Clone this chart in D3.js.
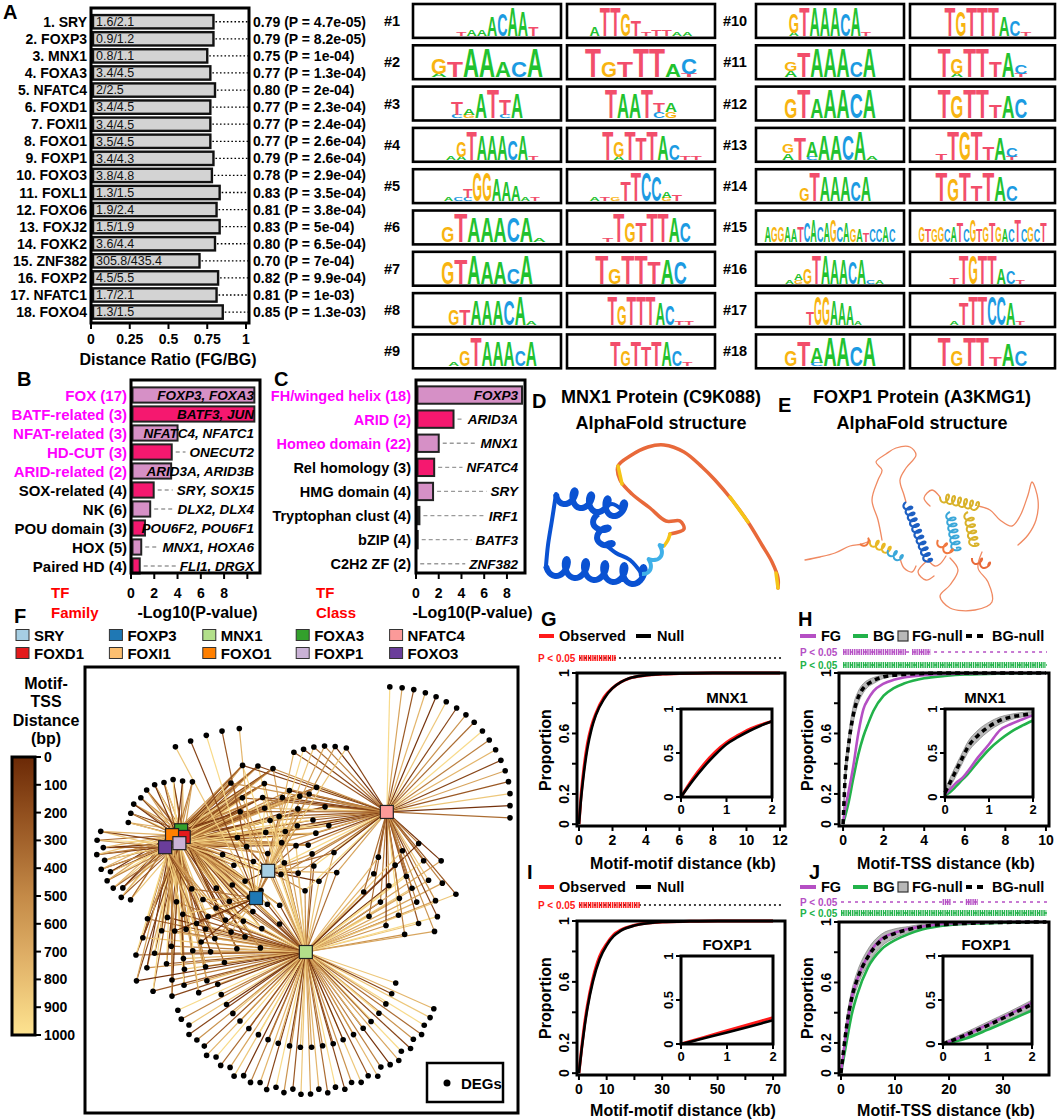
<!DOCTYPE html>
<html>
<head>
<meta charset="utf-8">
<script src="https://cdn.jsdelivr.net/npm/d3@7"></script>
<style>
  body { margin: 0; background: #fff; }
  svg { display: block; }
  text { font-family: "Liberation Sans", Arial, Helvetica, sans-serif; }
</style>
</head>
<body>
<svg id="fig" width="1059" height="1120"></svg>
<script>
// ---------------- data: panel A ----------------
const tfNamesA = ["SRY","FOXP3","MNX1","FOXA3","NFATC4","FOXD1","FOXI1","FOXO1","FOXP1","FOXO3","FOXL1","FOXO6","FOXJ2","FOXK2","ZNF382","FOXP2","NFATC1","FOXO4"];
const distFG = ["1.6","0.9","0.8","3.4","2","3.4","3.4","3.5","3.4","3.8","1.3","1.9","1.5","3.6","305.8","4.5","1.7","1.3"];
const distBG = ["2.1","1.2","1.1","4.5","2.5","4.5","4.5","4.5","4.3","4.8","1.5","2.4","1.9","4.4","435.4","5.5","2.1","1.5"];
const ratioA = [0.79,0.79,0.75,0.77,0.80,0.77,0.77,0.77,0.79,0.78,0.83,0.81,0.83,0.80,0.70,0.82,0.81,0.85];
const pvalA = ["4.7e-05","8.2e-05","1e-04","1.3e-04","2e-04","2.3e-04","2.4e-04","2.6e-04","2.6e-04","2.9e-04","3.5e-04","3.8e-04","5e-04","6.5e-04","7e-04","9.9e-04","1e-03","1.3e-03"];
const ratioTicks = [0, 0.25, 0.5, 0.75, 1];

// sequence logos: one token per position, letter+height(0-9), stacked bottom->top, "-" = empty
const motifFwd = [
  "- - - - t1 a2 a2 A6 C7 A9 A8 T3 - -",
  "- a1G5 T5 A9 A9 A5 C5 A9 -",
  "- - - c1T4 g1a2 A8 T9 c1T5 A8 - - -",
  "- - - a1 a1G5 T9 A8 A8 A8 C6 A8 t1 - -",
  "- - - a1 c1 c1T3 G9 G9 A7 A6 A5 a1 t1 - -",
  "- - G5 T9 A8 A8 A8 C8 A8 a1 -",
  "- - G7 T8 A9 A7 A7 C5 A9 - -",
  "- - - G5 T5 A8 A8 A8 C8 A9 a1 - -",
  "- - - a1 G5 T9 A8 A8 A8 C5 A8 - -",
  "- - - a1G6 T9 A9 A9 A9 C7 A9 t1 - - -",
  "- - a2G3 T8 A9 A9 A9 C5 A9 - -",
  "- - G6 T9 A6 A9 A9 C8 A9 - -",
  "- - a2G3 T7 c1A5 A8 A8 C8 A9 a1 - -",
  "- - - - G4 T9 A8 A8 A8 C6 A8 - - -",
  "- a5 g5 g5 a5 a4 t5 c6 a7 c5 a6 g7 c5 a6 g4 a4 t3 c4 c4 a5 c4 -",
  "- - - a1 g1a2 G5 T9 A9 A8 A8 C7 A8 c1 a1 - -",
  "- - - - - - T4 G9 G9 A8 A7 A6 a1 - - - - -",
  "- - G5 T8 c1A5 A9 A9 C6 A9 - -"
];
const motifRev = [
  "- - a3 T9 T9 G7 T5 t1 t2 t2 a1 a1 - -",
  "- T9 G5 T5 T9 T9 A4 t1C5 -",
  "- - - T9 A8 A8 T9 c2t3 g2a3 - - -",
  "- - - T9 a1G5 T9 T7 T9 A8 C5 t1 t1 -",
  "- - a1 t1 g1 T6 T9 C9 C8 g1a2 t2 - - -",
  "- - - t1 T9 G6 T6 T9 T9 A8 C6 - -",
  "- - T9 G5 T9 T9 T7 A8 C7 - -",
  "- - - - T9 G6 T9 T9 T9 A7 C6 t1 t1 - -",
  "- - - - T8 G5 T8 T6 T8 A8 C5 t1 - -",
  "- - - T9 G8 T9 T9 T9 A6 C5 t1 - -",
  "- - T9 a1G5 T9 T9 T5 A8 t1C3 - -",
  "- - T9 G7 T9 T9 T4 A7 C6 - -",
  "- - t2 T9 G9 T9 T4 A7 t1C3 - - -",
  "- - T9 G7 T9 T5 T9 A8 C5 - - -",
  "- g5 t4 g4 g5 c4 a5 t6 c4 g7 t4 g5 t6 g5 a4 c4 t7 c4 g5 c4 t6 -",
  "- - - - t2 T9 G9 T9 T9 A5 C4 t1 - - -",
  "- - - - a1 T7 T9 T9 C9 C9 A7 t1 - - -",
  "- - T9 G5 T9 T9 T3 A7 C5 - -"
];

// ---------------- data: panels B, C ----------------
const familyB = ["FOX (17)","BATF-related (3)","NFAT-related (3)","HD-CUT (3)","ARID-related (2)","SOX-related (4)","NK (6)","POU domain (3)","HOX (5)","Paired HD (4)"];
const familyLogP = [10.6, 10.6, 4.0, 3.5, 3.45, 1.95, 1.65, 1.2, 0.88, 0.75];
const familyGenes = ["FOXP3, FOXA3","BATF3, JUN","NFATC4, NFATC1","ONECUT2","ARID3A, ARID3B","SRY, SOX15","DLX2, DLX4","POU6F2, POU6F1","MNX1, HOXA6","FLI1, DRGX"];
const familySig = [1,1,1,1,1,0,0,0,0,0];
const classC = ["FH/winged helix (18)","ARID (2)","Homeo domain (22)","Rel homology (3)","HMG domain (4)","Tryptophan clust (4)","bZIP (4)","C2H2 ZF (2)"];
const classLogP = [9.4, 3.3, 2.0, 1.6, 1.5, 0.3, 0.15, 0.02];
const classGenes = ["FOXP3","ARID3A","MNX1","NFATC4","SRY","IRF1","BATF3","ZNF382"];
const classSig = [1,1,1,0,0,0,0,0];
const logPTicks = [0, 2, 4, 6, 8, 10];
const logPLabels = [0, 2, 4, 6, 8];

// ---------------- data: panel F network ----------------
const netTFs = ["SRY","FOXP3","MNX1","FOXA3","NFATC4","FOXD1","FOXI1","FOXO1","FOXP1","FOXO3"];
const degGroupTFs = [
  ["MNX1"], ["MNX1"], ["NFATC4"],
  ["FOXO3","FOXP1","FOXO1"], ["FOXA3","FOXD1","FOXI1"],
  ["FOXP1","FOXO1","MNX1"], ["FOXA3","FOXD1","FOXI1","MNX1"],
  ["FOXO3","FOXP1","FOXD1","NFATC4"], ["MNX1","NFATC4"],
  ["SRY","MNX1","NFATC4"], ["SRY","FOXP1","FOXO1"],
  ["FOXP3","MNX1","FOXO3"], ["FOXP3","FOXP1","NFATC4"],
  ["FOXA3","FOXD1","FOXI1","FOXO1","FOXP1","FOXO3","MNX1","NFATC4"],
  ["FOXP3"], ["SRY","NFATC4"]
];
const degGroupSize = [38, 22, 18, 12, 10, 25, 15, 12, 25, 10, 8, 10, 6, 8, 5, 6];
// motif-TSS distance of every edge, in hundreds of bp (0-9)
const degGroupDist = [
  "7893519604 7285193768 2591740863 97251849",
  "8169375024 6817392580 47",
  "9627081539 47162803",
  "6839271508 3794618025 7396148207 593817",
  "7281936405 8172639048 2719380564",
  "8371926045 7819263580 4917382605 8371940286 1739285046 8192736051 4928371605 73961",
  "6182739504 8271936045 7391820564 9173826059 1827394605 8392716048",
  "7392816054 8192736405 2918374650 8173926048 27391856",
  "8162937405 7829136504 9182736450 8291736054 7182930465",
  "7291836450 8172936045 9281736054",
  "6829173540 8192736504 7291",
  "8291736045 7182936504 8392716045",
  "7193826504 81927365",
  "8271936405 9182736054 7291836450 8172936045 9281736504 8192736045 7291",
  "81927",
  "7291836450 81"
];
const tssTicks = [0,100,200,300,400,500,600,700,800,900,1000];

// ---------------- data: panels G-J ----------------
const gX = [0,0.1,0.25,0.5,0.75,1,1.5,2,2.5,3,4,5,6,8,10,12];
const gNull = [0,0.14,0.3,0.5,0.63,0.72,0.83,0.9,0.94,0.965,0.985,0.993,0.997,1,1,1];
const gObs  = [0,0.16,0.33,0.53,0.65,0.73,0.84,0.9,0.94,0.965,0.985,0.993,0.997,1,1,1];
const gInX = [0,0.25,0.5,0.75,1,1.25,1.5,1.75,2];
const gInNull = [0,0.18,0.34,0.48,0.6,0.68,0.75,0.81,0.86];
const gInObs  = [0,0.2,0.37,0.51,0.62,0.7,0.77,0.82,0.86];
const gSig = [[0, 2.2]];

const hX = [0,0.1,0.25,0.5,0.75,1,1.25,1.5,2,2.5,3,4,5,6,8,10];
const hBgNull = [0,0.3,0.5,0.72,0.84,0.9,0.93,0.95,0.975,0.985,0.99,0.997,1,1,1,1];
const hFgNullLo = [0,0.25,0.45,0.67,0.8,0.87,0.91,0.93,0.965,0.978,0.985,0.994,0.998,1,1,1];
const hFgNullHi = [0,0.36,0.56,0.78,0.88,0.93,0.955,0.97,0.985,0.992,0.995,1,1,1,1,1];
const hFG = [0,0.1,0.2,0.38,0.6,0.76,0.83,0.88,0.93,0.955,0.97,0.985,0.993,0.997,1,1];
const hBG = [0,0.05,0.13,0.3,0.46,0.58,0.67,0.75,0.85,0.9,0.93,0.965,0.98,0.99,0.997,1];
const hInX = [0,0.1,0.25,0.4,0.5,0.75,1,1.25,1.5,1.75,2];
const hInBgNull = [0.05,0.15,0.3,0.45,0.55,0.7,0.8,0.87,0.91,0.93,0.95];
const hInFgNullLo = [0.02,0.1,0.24,0.39,0.49,0.64,0.75,0.83,0.88,0.91,0.93];
const hInFgNullHi = [0.08,0.2,0.36,0.51,0.61,0.76,0.85,0.91,0.94,0.96,0.97];
const hInFG = [0.03,0.08,0.16,0.22,0.28,0.45,0.6,0.76,0.83,0.88,0.93];
const hInBG = [0.02,0.05,0.12,0.2,0.25,0.4,0.54,0.65,0.74,0.81,0.87];
const hSigFG = [[0, 3.1], [3.4, 4.3]];
const hSigBG = [[0, 10]];

const iX = [0,1,2,3,5,7.5,10,12.5,15,20,25,30,40,50,70];
const iNull = [0,0.16,0.3,0.42,0.6,0.75,0.84,0.9,0.935,0.97,0.985,0.993,0.998,1,1];
const iObs  = [0,0.17,0.32,0.44,0.62,0.77,0.85,0.91,0.94,0.972,0.987,0.994,0.998,1,1];
const iInX = [0,0.5,1,1.5,2];
const iInNull = [0,0.065,0.13,0.2,0.27];
const iInObs  = [0,0.075,0.15,0.225,0.3];
const iSig = [[0, 22]];

const jX = [0,1,2,3,5,7.5,10,12.5,15,20,25,30,38];
const jFG = [0,0.28,0.5,0.62,0.78,0.89,0.93,0.955,0.97,0.99,0.995,1,1];
const jBgNull = [0,0.3,0.5,0.62,0.77,0.88,0.925,0.95,0.97,0.985,0.993,0.997,1];
const jFgNullLo = [0,0.25,0.45,0.57,0.72,0.84,0.895,0.93,0.955,0.975,0.988,0.995,1];
const jFgNullHi = [0,0.35,0.55,0.67,0.82,0.92,0.955,0.97,0.985,0.995,0.998,1,1];
const jBG = [0,0.2,0.39,0.52,0.7,0.82,0.88,0.92,0.95,0.98,0.99,0.995,1];
const jInX = [0,0.5,1,1.5,2];
const jInFG = [0,0.1,0.22,0.34,0.47];
const jInBgNull = [0,0.1,0.21,0.33,0.45];
const jInFgNullLo = [0,0.07,0.17,0.28,0.4];
const jInFgNullHi = [0.02,0.13,0.25,0.37,0.5];
const jInBG = [0,0.06,0.16,0.27,0.38];
const jSigFG = [[18.8, 20.4], [23.1, 25.3]];
const jSigBG = [[0, 38]];

// ---------------- styles / layout ----------------
const nucColor = {A: "#22c22f", C: "#1c9be2", G: "#f8b411", T: "#f24e6b"};
const plum = "#d690c6", pink = "#f5186f", magenta = "#ff00ff";
const tfColor = {SRY:"#a6cee3", FOXP3:"#1f78b4", MNX1:"#b2df8a", FOXA3:"#33a02c", NFATC4:"#fb9a99",
                 FOXD1:"#e31a1c", FOXI1:"#fdbf6f", FOXO1:"#ff7f00", FOXP1:"#cab2d6", FOXO3:"#6a3d9a"};
const tssColor = d3.scaleLinear().domain([0,250,500,750,1000])
  .range(["#6b2906","#9a5824","#c48a47","#e3b56b","#fde390"]);
const fgCol = "#b54fc4", bgCol = "#22b24a";

const svg = d3.select("#fig");

function label(g, x, y, s, o = {}) {
  const t = g.append("text")
    .attr("x", x).attr("y", y)
    .attr("font-size", o.size || 14)
    .attr("font-weight", o.weight || "bold")
    .attr("text-anchor", o.anchor || "start")
    .attr("fill", o.fill || "#000")
    .text(s);
  if (o.italic) t.attr("font-style", "italic");
  if (o.rotate) t.attr("transform", `rotate(${o.rotate},${x},${y})`);
  return t;
}
function seg(g, x1, y1, x2, y2, color, w, dash) {
  const l = g.append("line").attr("x1", x1).attr("y1", y1).attr("x2", x2).attr("y2", y2)
    .attr("stroke", color).attr("stroke-width", w);
  if (dash) l.attr("stroke-dasharray", dash);
  return l;
}
function box(g, x0, y0, x1, y1, w, fill) {
  return g.append("rect").attr("x", x0).attr("y", y0).attr("width", x1 - x0).attr("height", y1 - y0)
    .attr("fill", fill || "none").attr("stroke", w ? "#000" : "none").attr("stroke-width", w);
}

// ======================= Panel A =======================
const gA = svg.append("g");
label(gA, 3, 19, "A", {size: 20});
const xA = d3.scaleLinear().domain([0, 1]).range([91, 246]);
const yA = d3.scaleBand().domain(d3.range(tfNamesA.length)).range([13.2, 320.6])
  .paddingInner(0.22).paddingOuter(0.11);
const aRight = 249, aTop = 8, aBottom = 323;

tfNamesA.forEach((name, i) => {
  const y = yA(i), h = yA.bandwidth(), cy = y + h / 2, xe = xA(ratioA[i]);
  seg(gA, xe + 2, cy, aRight, cy, "#000", 1.3, "1.6,2.2");
  gA.append("rect").attr("x", xA(0) + 2).attr("y", y).attr("width", xe - xA(0) - 2).attr("height", h)
    .attr("fill", "#d3d3d3").attr("stroke", "#111").attr("stroke-width", 2.4);
  label(gA, xA(0) + 5, cy + 4.3, `${distFG[i]}/${distBG[i]}`, {size: 12.5, weight: "normal", fill: "#111"});
  label(gA, 87, cy + 5, `${i + 1}. ${name}`, {size: 14, anchor: "end"});
  label(gA, 253, cy + 5, `${ratioA[i].toFixed(2)} (P = ${pvalA[i]})`, {size: 14});
});
box(gA, xA(0), aTop, aRight, aBottom, 3);
ratioTicks.forEach(t => {
  seg(gA, xA(t), aBottom, xA(t), aBottom + 6, "#000", 2);
  label(gA, xA(t), aBottom + 21, String(t), {size: 14, anchor: "middle"});
});
label(gA, 168, 365, "Distance Ratio (FG/BG)", {size: 16, anchor: "middle"});

// ---- motif logos ----
const gM = svg.append("g");
const logoCols = [[413, 561], [567, 715], [756, 904], [910, 1055]];
const logoRow = d3.scaleBand().domain(d3.range(9)).range([4, 368.3]).paddingInner(0.18);

function drawLogo(g, x0, x1, y0, y1, str) {
  box(g, x0, y0, x1, y1, 0, "#fff");
  const cols = str.split(" ");
  const cx = d3.scaleBand().domain(d3.range(cols.length)).range([x0 + 2, x1 - 2]);
  const hs = d3.scaleLinear().domain([0, 9]).range([0, (y1 - y0 - 4) * 0.97]);
  cols.forEach((tok, i) => {
    let base = y1 - 2;
    for (const m of tok.matchAll(/([acgt])(\d)/gi)) {
      const L = m[1].toUpperCase(), h = hs(+m[2]);
      g.append("text").text(L)
        .attr("font-size", 10).attr("font-weight", "bold")
        .attr("textLength", cx.bandwidth()).attr("lengthAdjust", "spacingAndGlyphs")
        .attr("fill", nucColor[L])
        .attr("transform", `translate(${cx(i)},${base}) scale(1,${h / 7.2})`);
      base -= h;
    }
  });
  box(g, x0, y0, x1, y1, 2.6);
}
motifFwd.forEach((fwd, m) => {
  const grp = m < 9 ? 0 : 1, row = m % 9;
  const y0 = logoRow(row), y1 = y0 + logoRow.bandwidth();
  const cF = logoCols[grp * 2], cR = logoCols[grp * 2 + 1];
  drawLogo(gM, cF[0], cF[1], y0, y1, fwd);
  drawLogo(gM, cR[0], cR[1], y0, y1, motifRev[m]);
  label(gM, cF[0] - 21, (y0 + y1) / 2 + 5, `#${m + 1}`, {size: 14.5, anchor: "middle"});
});

// ======================= Panels B & C =======================
function tfBarPanel(g, xs, ys, names, vals, genes, sig, nameX, geneX, nameSize, top, bottom) {
  const [x0, x1] = [xs(0), xs.range()[1] + 1];
  names.forEach((nm, i) => {
    const y = ys(i), h = ys.bandwidth(), cy = y + h / 2;
    const xe = Math.min(xs(vals[i]), x1 - 3);
    const gt = label(g, geneX, cy + 5, genes[i], {size: 13.5, anchor: "end", italic: true});
    const w = gt.node().getComputedTextLength();
    if (geneX - w - 4 > xe + 5) seg(g, xe + 4, cy, geneX - w - 4, cy, "#9a9a9a", 1.3, "4,3");
    if (vals[i] > 0.05) {
      g.insert("rect", "text").attr("x", x0 + 1.5).attr("y", y).attr("width", xe - x0 - 1.5).attr("height", h)
        .attr("fill", i % 2 === 0 ? plum : pink).attr("stroke", "#222").attr("stroke-width", 2);
    }
    label(g, nameX, cy + 5.5, nm, {size: nameSize, anchor: "end", fill: sig[i] ? magenta : "#000"});
  });
  box(g, x0, top, x1, bottom, 3);
  logPTicks.filter(t => xs(t) < x1).forEach(t => seg(g, xs(t), bottom, xs(t), bottom + 6, "#000", 2));
  logPLabels.forEach(t => label(g, xs(t), bottom + 25, String(t), {size: 14, anchor: "middle"}));
  label(g, (x0 + x1) / 2 + 2, bottom + 45, "-Log10(P-value)", {size: 16, anchor: "middle"});
}
const gB = svg.append("g");
label(gB, 17, 386, "B", {size: 20});
const xB = d3.scaleLinear().domain([0, 11]).range([131, 259]);
const yB = d3.scaleBand().domain(d3.range(familyB.length)).range([385.5, 575.5]).paddingInner(0.2).paddingOuter(0.1);
tfBarPanel(gB, xB, yB, familyB, familyLogP, familyGenes, familySig, 127, 254, 15, 380, 573);
label(gB, 51, 598, "TF", {size: 15, fill: "#ff0000"});
label(gB, 51, 618, "Family", {size: 15, fill: "#ff0000"});

const gC = svg.append("g");
label(gC, 274, 386, "C", {size: 20});
const xC = d3.scaleLinear().domain([0, 9.5]).range([416, 524]);
const yC = d3.scaleBand().domain(d3.range(classC.length)).range([383, 575.8]).paddingInner(0.28).paddingOuter(0.14);
tfBarPanel(gC, xC, yC, classC, classLogP, classGenes, classSig, 411, 518, 14.5, 380, 573);
label(gC, 316, 598, "TF", {size: 15, fill: "#ff0000"});
label(gC, 316, 618, "Class", {size: 15, fill: "#ff0000"});

// ======================= Panels D & E (structure sketches) =======================
const mnx1Coil = [[130,94],[144,89],[140,81],[126,81],[110,68],[92,54],[80,40],[78,26],[90,16],[108,7],[124,5],[144,12],[162,27],[175,40],[192,60],[208,82],[222,105],[232,122],[238,138],[238,148]];
const mnx1Yellow = [[[82,44],[78,26]], [[190,57],[208,82]], [[236,133],[238,148]], [[124,106],[128,100],[130,94]]];
const mnx1Loops = [[[6,126],[8,105],[12,80],[16,54]], [[82,70],[72,64],[60,72],[58,74]], [[66,105],[76,113],[90,120],[102,134]]];
const mnx1Helices = [
  {a:[6,126], b:[102,136], turns:5, amp:9, c:"#0a52d2", w:6},
  {a:[16,54], b:[82,70], turns:4, amp:8, c:"#0a52d2", w:6},
  {a:[58,74], b:[66,105], turns:2, amp:7, c:"#0a52d2", w:6},
  {a:[102,134], b:[124,106], turns:2, amp:4, c:"#3fb0e8", w:4}
];
const foxp1Coils = [
  [[5,120],[20,117],[35,113],[50,106],[62,104],[70,101]],
  [[100,118],[104,128],[112,132],[116,126]],
  [[82,100],[78,80],[72,60],[78,40],[82,30],[76,22],[86,14],[96,8],[110,7],[116,15],[106,28],[100,40],[104,55],[106,62]],
  [[128,120],[135,126],[140,124],[146,116]],
  [[178,66],[190,70],[200,80],[212,86],[220,76],[228,55],[232,42],[238,60],[236,80],[228,95],[218,105]],
  [[150,118],[158,130],[150,145],[140,156],[150,168],[175,170],[192,162],[188,142],[178,128],[182,112]],
  [[128,120],[118,132],[126,140],[134,136]],
  [[140,57],[132,50],[124,58],[130,66]]
];
const foxp1Helices = [
  {a:[70,101], b:[88,110], turns:3, amp:4, c:"#e8b825", w:2},
  {a:[88,110], b:[100,118], turns:2, amp:4, c:"#3aa7d9", w:2},
  {a:[106,62], b:[128,120], turns:10, amp:4, c:"#1d5fc2", w:2.2},
  {a:[140,57], b:[176,66], turns:6, amp:4.5, c:"#d9b22a", w:2},
  {a:[150,72], b:[156,108], turns:6, amp:4.5, c:"#3aa7d9", w:2},
  {a:[168,72], b:[174,104], turns:5, amp:4.5, c:"#d9b22a", w:2},
  {a:[138,100], b:[150,112], turns:2, amp:4, c:"#f07840", w:2},
  {a:[172,118], b:[188,126], turns:2, amp:4, c:"#e86a3a", w:2},
  {a:[60,104], b:[70,101], turns:1, amp:3, c:"#f07840", w:2}
];
function helixPts(a, b, turns, amp) {
  const n = Math.round(turns * 12), dx = b[0] - a[0], dy = b[1] - a[1];
  const L = Math.hypot(dx, dy), ux = dx / L, uy = dy / L, nx = -uy, ny = ux;
  return d3.range(n + 1).map(i => {
    const f = i / n, ph = f * turns * 2 * Math.PI;
    const along = f * L - amp * 0.6 * Math.cos(ph) + amp * 0.6, perp = amp * Math.sin(ph);
    return [a[0] + ux * along + nx * perp, a[1] + uy * along + ny * perp];
  });
}
function sketch(g, sx, sy, coils, coilColor, coilW, helices, extra) {
  const line = d3.line().x(d => sx(d[0])).y(d => sy(d[1])).curve(d3.curveCatmullRom);
  coils.forEach(p => g.append("path").attr("d", line(p)).attr("fill", "none")
    .attr("stroke", coilColor).attr("stroke-width", coilW).attr("stroke-linecap", "round"));
  if (extra) extra(line);
  helices.forEach(h => g.append("path").attr("d", line(helixPts(h.a, h.b, h.turns, h.amp)))
    .attr("fill", "none").attr("stroke", h.c).attr("stroke-width", h.w).attr("stroke-linejoin", "round"));
}
const gD = svg.append("g");
label(gD, 532, 408, "D", {size: 20});
label(gD, 661, 403, "MNX1 Protein (C9K088)", {size: 18, anchor: "middle"});
label(gD, 661, 429, "AlphaFold structure", {size: 18, anchor: "middle"});
const dX = d3.scaleLinear().domain([0, 240]).range([540, 780]);
const dY = d3.scaleLinear().domain([0, 150]).range([440, 590]);
sketch(gD, dX, dY, [mnx1Coil], "#e8693a", 3.5, mnx1Helices, line => {
  mnx1Yellow.forEach(p => gD.append("path").attr("d", line(p)).attr("fill", "none")
    .attr("stroke", "#f5c518").attr("stroke-width", 3.5).attr("stroke-linecap", "round"));
  mnx1Loops.forEach(p => gD.append("path").attr("d", line(p)).attr("fill", "none")
    .attr("stroke", "#0a52d2").attr("stroke-width", 4).attr("stroke-linecap", "round"));
});

const gE = svg.append("g");
label(gE, 778, 412, "E", {size: 20});
label(gE, 922, 403, "FOXP1 Protein (A3KMG1)", {size: 18, anchor: "middle"});
label(gE, 922, 429, "AlphaFold structure", {size: 18, anchor: "middle"});
const eX = d3.scaleLinear().domain([0, 240]).range([800, 1040]);
const eY = d3.scaleLinear().domain([0, 175]).range([440, 615]);
sketch(gE, eX, eY, foxp1Coils, "#f08a62", 1.3, foxp1Helices);

// ======================= Panel F (network) =======================
const gF = svg.append("g");
label(gF, 14, 623, "F", {size: 20});
const legX = d3.scaleBand().domain(d3.range(5)).range([16, 483]);
netTFs.forEach((t, i) => {
  const x = legX(i % 5), cy = 635 + Math.floor(i / 5) * 18;
  gF.append("rect").attr("x", x).attr("y", cy - 5.5).attr("width", 13).attr("height", 11)
    .attr("fill", tfColor[t]).attr("stroke", "#333").attr("stroke-width", 1);
  label(gF, x + 18, cy + 5.5, t, {size: 15});
});

// color bar
const defs = svg.append("defs");
const grad = defs.append("linearGradient").attr("id", "tssGrad").attr("x1", 0).attr("y1", 0).attr("x2", 0).attr("y2", 1);
tssTicks.forEach(v => grad.append("stop").attr("offset", v / 1000).attr("stop-color", tssColor(v)));
const cbY = d3.scaleLinear().domain([0, 1000]).range([757, 1035]);
["Motif-", "TSS", "Distance", "(bp)"].forEach((s, i) => label(gF, 46, 689 + i * 18.3, s, {size: 16, anchor: "middle"}));
gF.append("rect").attr("x", 12).attr("y", cbY(0)).attr("width", 23).attr("height", cbY(1000) - cbY(0))
  .attr("fill", "url(#tssGrad)").attr("stroke", "#000").attr("stroke-width", 3);
tssTicks.forEach(v => {
  seg(gF, 35, cbY(v), 41, cbY(v), "#000", 2);
  label(gF, 44, cbY(v) + 5, String(v), {size: 14});
});

// network layout (layout space 0-1 mapped to the panel box)
const netX = d3.scaleLinear().domain([0, 1]).range([85, 518]);
const netY = d3.scaleLinear().domain([0, 1]).range([667, 1113]);
const tfLayout = {SRY:[0.423,0.457], FOXP3:[0.395,0.518], MNX1:[0.510,0.639], FOXA3:[0.222,0.366],
  NFATC4:[0.697,0.325], FOXD1:[0.228,0.381], FOXI1:[0.212,0.378], FOXO1:[0.201,0.377],
  FOXP1:[0.218,0.395], FOXO3:[0.185,0.404]};
// per group: fan ("arc": from, to, radius) or cloud ("cloud": direction, distance) around its TFs
const groupLayout = [
  ["arc",25,155,140], ["arc",20,160,95], ["arc",-88,2,125], ["arc",128,185,72], ["arc",-165,-80,54],
  ["cloud",118,88], ["cloud",55,58], ["cloud",-12,68], ["cloud",8,62], ["cloud",230,22], ["cloud",15,45],
  ["cloud",150,45], ["cloud",-70,42], ["cloud",-58,72], ["arc",-118,-96,170], ["arc",-110,-80,95]];
const tfPos = {};
netTFs.forEach(t => tfPos[t] = [netX(tfLayout[t][0]), netY(tfLayout[t][1])]);
const degNodes = [], edges = [];
const rad = a => a * Math.PI / 180;
degGroupTFs.forEach((tfs, g) => {
  const n = degGroupSize[g], ds = degGroupDist[g].replace(/\s/g, "");
  const cx = d3.mean(tfs, t => tfPos[t][0]), cy = d3.mean(tfs, t => tfPos[t][1]);
  const L = groupLayout[g];
  for (let j = 0; j < n; j++) {
    let tx, ty, k;
    if (L[0] === "arc") {
      const a = rad(L[1] + (L[2] - L[1]) * (n === 1 ? 0.5 : j / (n - 1)));
      tx = cx + L[3] * Math.cos(a); ty = cy + L[3] * Math.sin(a); k = 0.4;
    } else {
      const ox = cx + L[2] * Math.cos(rad(L[1])), oy = cy + L[2] * Math.sin(rad(L[1]));
      const rr = 8 * Math.sqrt(j + 0.5), th = j * 2.39996;
      tx = ox + rr * Math.cos(th); ty = oy + rr * Math.sin(th); k = 0.08;
    }
    const node = {tx, ty, k, x: tx, y: ty};
    degNodes.push(node);
    tfs.forEach((t, q) => edges.push({node, tf: t, dist: +ds[j * tfs.length + q] * 100 + 50}));
  }
});
const sim = d3.forceSimulation(degNodes)
  .force("collide", d3.forceCollide(4.8))
  .force("charge", d3.forceManyBody().strength(-5).distanceMax(40))
  .force("x", d3.forceX(d => d.tx).strength(d => d.k))
  .force("y", d3.forceY(d => d.ty).strength(d => d.k))
  .stop();
for (let i = 0; i < 220; i++) {
  sim.tick();
  degNodes.forEach(d => { d.x = Math.max(93, Math.min(510, d.x)); d.y = Math.max(675, Math.min(1105, d.y)); });
}
const gNet = gF.append("g");
gNet.selectAll("line.edge").data(edges).join("line").attr("class", "edge")
  .attr("x1", d => tfPos[d.tf][0]).attr("y1", d => tfPos[d.tf][1])
  .attr("x2", d => d.node.x).attr("y2", d => d.node.y)
  .attr("stroke", d => tssColor(d.dist)).attr("stroke-width", 1.2);
gNet.selectAll("circle.deg").data(degNodes).join("circle").attr("class", "deg")
  .attr("cx", d => d.x).attr("cy", d => d.y).attr("r", 2.8).attr("fill", "#000");
const drawOrder = ["SRY","FOXP3","MNX1","NFATC4","FOXI1","FOXA3","FOXD1","FOXO1","FOXO3","FOXP1"];
gNet.selectAll("rect.tf").data(drawOrder).join("rect").attr("class", "tf")
  .attr("x", d => tfPos[d][0] - 6.5).attr("y", d => tfPos[d][1] - 6.5)
  .attr("width", 13).attr("height", 13).attr("fill", d => tfColor[d])
  .attr("stroke", "#222").attr("stroke-width", 1.2);
box(gF, 85, 667, 518, 1113, 3);
box(gF, 427, 1063, 503, 1102, 2.5, "#fff");
gF.append("circle").attr("cx", 447).attr("cy", 1083).attr("r", 3.5).attr("fill", "#000");
label(gF, 461, 1088.5, "DEGs", {size: 15});

// ======================= Panels G-J =======================
const pt = (xs, ys) => xs.map((v, i) => [v, ys[i]]);
function curve(g, x, y, pts, color, w, dash) {
  const p = g.append("path").attr("d", d3.line().x(d => x(d[0])).y(d => y(d[1])).curve(d3.curveMonotoneX)(pts))
    .attr("fill", "none").attr("stroke", color).attr("stroke-width", w).attr("stroke-linejoin", "round");
  if (dash) p.attr("stroke-dasharray", dash);
}
function band(g, x, y, xs, lo, hi) {
  g.append("path").attr("d", d3.area().x((d, i) => x(xs[i])).y0((d, i) => y(lo[i])).y1((d, i) => y(hi[i]))
    .curve(d3.curveMonotoneX)(xs)).attr("fill", "#b8b8b8").attr("stroke", "#8a8a8a").attr("stroke-width", 0.8);
}
function frame(g, x, y, xTicks, xLabs, yTicks, yLabs, fs, lw, offX) {
  const [x0, x1] = x.range(), [y1, y0] = y.range();
  box(g, x0, y0, x1, y1, lw);
  xTicks.forEach(t => seg(g, x(t), y1, x(t), y1 + 5, "#000", 2));
  xLabs.forEach(t => label(g, x(t), y1 + offX, String(t), {size: fs, anchor: "middle"}));
  yTicks.forEach(t => seg(g, x0 - 5, y(t), x0, y(t), "#000", 2));
  yLabs.forEach(t => label(g, x0 - 8, y(t), String(t), {size: fs, anchor: "middle", rotate: -90}));
}
function sigRow(g, x, yRow, text, color, ranges, restColor, restDash, endX) {
  label(g, x.range()[0] - 39, yRow + 3.5, text, {size: 10, fill: color});
  seg(g, x(0), yRow, endX, yRow, restColor, 1.6, restDash);
  ranges.forEach(r => seg(g, x(r[0]), yRow, Math.min(x(r[1]), endX), yRow, color, 6, "1.4,0.8"));
}
function legendObsNull(g, yL) {
  seg(g, 539, yL, 554, yL, "#ff1a1a", 4);
  label(g, 559, yL + 5, "Observed", {size: 14.5});
  seg(g, 636, yL, 651, yL, "#000", 4);
  label(g, 657, yL + 5, "Null", {size: 14.5});
}
function legendFgBg(g, yL) {
  seg(g, 800, yL, 816, yL, fgCol, 4);
  label(g, 821, yL + 5, "FG", {size: 14.5});
  seg(g, 853, yL, 868, yL, bgCol, 4);
  label(g, 873, yL + 5, "BG", {size: 14.5});
  g.append("rect").attr("x", 898).attr("y", yL - 5).attr("width", 10).attr("height", 10)
    .attr("fill", "#b8b8b8").attr("stroke", "#333").attr("stroke-width", 1.2);
  label(g, 912, yL + 5, "FG-null", {size: 14.5});
  seg(g, 966, yL, 988, yL, "#000", 4, "6,5");
  label(g, 992, yL + 5, "BG-null", {size: 14.5});
}
const propTicks = [0, 0.2, 0.4, 0.6, 0.8, 1], propLabs = [0, 0.2, 0.6, 1];
const inTicksY = [0, 0.5, 1], inTicksX = [0, 1, 2];

// ---- G ----
const gG = svg.append("g");
label(gG, 541, 626, "G", {size: 20});
legendObsNull(gG, 636);
const xG = d3.scaleLinear().domain([-0.12, 12.3]).range([577, 785]);
const yG = d3.scaleLinear().domain([-0.012, 1]).range([826, 673]);
sigRow(gG, xG, 658, "P < 0.05", "#ff1a1a", gSig, "#000", "2,3", 783);
curve(gG, xG, yG, pt(gX, gObs), "#ff1a1a", 3);
curve(gG, xG, yG, pt(gX, gNull), "#000", 2.6);
const xGi = d3.scaleLinear().domain([0, 2]).range([681, 772]);
const yGi = d3.scaleLinear().domain([0, 1]).range([797, 709]);
box(gG, 681, 709, 772, 797, 0, "#fff");
curve(gG, xGi, yGi, pt(gInX, gInObs), "#ff1a1a", 3);
curve(gG, xGi, yGi, pt(gInX, gInNull), "#000", 2.6);
frame(gG, xGi, yGi, inTicksX, inTicksX, inTicksY, inTicksY, 13, 3, 17);
label(gG, 727, 703, "MNX1", {size: 15, anchor: "middle"});
frame(gG, xG, yG, d3.range(0, 13, 2), d3.range(0, 13, 2), propTicks, propLabs, 14, 3, 19);
label(gG, 551, 750, "Proportion", {size: 16, anchor: "middle", rotate: -90});
label(gG, 683, 869, "Motif-motif distance (kb)", {size: 16, anchor: "middle"});

// ---- H ----
const gH = svg.append("g");
label(gH, 798, 626, "H", {size: 20});
legendFgBg(gH, 636);
const xH = d3.scaleLinear().domain([-0.2, 10.15]).range([839, 1049]);
const yH = d3.scaleLinear().domain([-0.012, 1]).range([826, 673]);
sigRow(gH, xH, 652, "P < 0.05", fgCol, hSigFG, fgCol, "3,4", 1047);
sigRow(gH, xH, 665, "P < 0.05", bgCol, hSigBG, bgCol, "3,4", 1047);
band(gH, xH, yH, hX, hFgNullLo, hFgNullHi);
curve(gH, xH, yH, pt(hX, hBG), bgCol, 2.6);
curve(gH, xH, yH, pt(hX, hFG), fgCol, 2.6);
curve(gH, xH, yH, pt(hX, hBgNull), "#000", 3.5, "5,4");
const xHi = d3.scaleLinear().domain([0, 2]).range([945, 1033]);
const yHi = d3.scaleLinear().domain([0, 1]).range([797, 709]);
box(gH, 945, 709, 1033, 797, 0, "#fff");
band(gH, xHi, yHi, hInX, hInFgNullLo, hInFgNullHi);
curve(gH, xHi, yHi, pt(hInX, hInBG), bgCol, 2.6);
curve(gH, xHi, yHi, pt(hInX, hInFG), fgCol, 2.6);
curve(gH, xHi, yHi, pt(hInX, hInBgNull), "#000", 3.5, "5,4");
frame(gH, xHi, yHi, inTicksX, inTicksX, inTicksY, inTicksY, 13, 3, 17);
label(gH, 985, 703, "MNX1", {size: 15, anchor: "middle"});
frame(gH, xH, yH, d3.range(0, 11, 2), d3.range(0, 11, 2), propTicks, propLabs, 14, 3, 19);
label(gH, 813, 750, "Proportion", {size: 16, anchor: "middle", rotate: -90});
label(gH, 946, 869, "Motif-TSS distance (kb)", {size: 16, anchor: "middle"});

// ---- I ----
const gI = svg.append("g");
label(gI, 527, 879, "I", {size: 20});
legendObsNull(gI, 887);
const xI = d3.scaleLinear().domain([-0.7, 74.3]).range([577, 785]);
const yI = d3.scaleLinear().domain([-0.012, 1]).range([1075, 921]);
sigRow(gI, xI, 905, "P < 0.05", "#ff1a1a", iSig, "#000", "2,3", 783);
curve(gI, xI, yI, pt(iX, iObs), "#ff1a1a", 3);
curve(gI, xI, yI, pt(iX, iNull), "#000", 2.6);
const xIi = d3.scaleLinear().domain([0, 2]).range([681, 773]);
const yIi = d3.scaleLinear().domain([0, 1]).range([1044, 956]);
box(gI, 681, 956, 773, 1044, 0, "#fff");
curve(gI, xIi, yIi, pt(iInX, iInObs), "#ff1a1a", 3);
curve(gI, xIi, yIi, pt(iInX, iInNull), "#000", 2.6);
frame(gI, xIi, yIi, inTicksX, inTicksX, inTicksY, inTicksY, 13, 3, 17);
label(gI, 727, 950, "FOXP1", {size: 15, anchor: "middle"});
frame(gI, xI, yI, d3.range(0, 71, 10), [0, 10, 30, 50, 70], propTicks, propLabs, 14, 3, 19);
label(gI, 551, 998, "Proportion", {size: 16, anchor: "middle", rotate: -90});
label(gI, 683, 1116, "Motif-motif distance (kb)", {size: 16, anchor: "middle"});

// ---- J ----
const gJ = svg.append("g");
label(gJ, 809, 879, "J", {size: 20});
legendFgBg(gJ, 887);
const xJ = d3.scaleLinear().domain([-0.37, 38.5]).range([839, 1049]);
const yJ = d3.scaleLinear().domain([-0.012, 1]).range([1075, 922]);
sigRow(gJ, xJ, 902, "P < 0.05", fgCol, jSigFG, fgCol, "3,4", 1047);
sigRow(gJ, xJ, 913, "P < 0.05", bgCol, jSigBG, bgCol, "3,4", 1047);
band(gJ, xJ, yJ, jX, jFgNullLo, jFgNullHi);
curve(gJ, xJ, yJ, pt(jX, jBG), bgCol, 2.6);
curve(gJ, xJ, yJ, pt(jX, jFG), fgCol, 2.6);
curve(gJ, xJ, yJ, pt(jX, jBgNull), "#000", 3.5, "5,4");
const xJi = d3.scaleLinear().domain([0, 2]).range([943, 1032]);
const yJi = d3.scaleLinear().domain([0, 1]).range([1044, 956]);
box(gJ, 943, 956, 1032, 1044, 0, "#fff");
band(gJ, xJi, yJi, jInX, jInFgNullLo, jInFgNullHi);
curve(gJ, xJi, yJi, pt(jInX, jInBG), bgCol, 2.6);
curve(gJ, xJi, yJi, pt(jInX, jInFG), fgCol, 2.6);
curve(gJ, xJi, yJi, pt(jInX, jInBgNull), "#000", 3.5, "5,4");
frame(gJ, xJi, yJi, inTicksX, inTicksX, inTicksY, inTicksY, 13, 3, 17);
label(gJ, 986, 950, "FOXP1", {size: 15, anchor: "middle"});
frame(gJ, xJ, yJ, d3.range(0, 31, 10), d3.range(0, 31, 10), propTicks, propLabs, 14, 3, 19);
label(gJ, 813, 998, "Proportion", {size: 16, anchor: "middle", rotate: -90});
label(gJ, 946, 1116, "Motif-TSS distance (kb)", {size: 16, anchor: "middle"});
</script>
</body>
</html>
